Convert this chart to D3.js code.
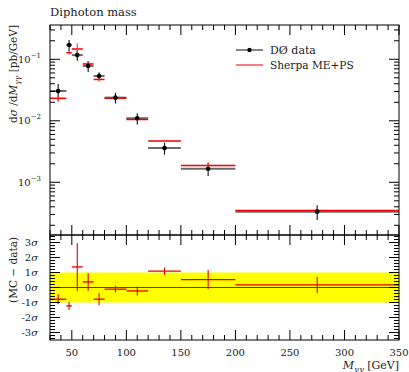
<!DOCTYPE html>
<html><head><meta charset="utf-8">
<script src="https://cdn.jsdelivr.net/npm/d3@7"></script>
<style>
body{margin:0;background:#fff;}
svg text{font-family:"DejaVu Serif",serif;fill:#222;}
</style></head>
<body><svg id="c" width="409" height="372"></svg>
<script>
const binLow  = [30,45,50,60,70,80,100,120,150,200];
const binHigh = [45,50,60,70,80,100,120,150,200,350];
const dataVal = [0.0305,0.171,0.117,0.078,0.0535,0.0238,0.011,0.0036,0.00166,0.000333];
const dataErr = [0.0092,0.035,0.022,0.016,0.0083,0.0047,0.0023,0.0008,0.0004,0.00009];
const mcVal   = [0.0232,0.128,0.147,0.084,0.047,0.0233,0.0105,0.0047,0.00187,0.000348];
const mcErr   = [0.003,0.0095,0.035,0.0093,0.0033,0.0011,0.0007,0.0002,0.00025,0.000048];
const ratioVal = [-0.78,-1.23,1.37,0.37,-0.78,-0.11,-0.23,1.09,0.53,0.17];
const ratioErr = [0.33,0.27,1.6,0.58,0.4,0.23,0.3,0.25,0.63,0.53];
const xTicks = [50,100,150,200,250,300,350];
const ratioTicks = [-3,-2,-1,0,1,2,3];
const yDecades = [-3,-2,-1];

const svg = d3.select("#c");
const L=50,R=399,T=25,MB=235,RB=340;
const x = d3.scaleLinear().domain([30,350]).range([L,R]);
const y = d3.scaleLog().domain([1.39e-4,0.361]).range([MB,T]);
const yr = d3.scaleLinear().domain([-3.5,3.5]).range([RB,MB]);
const bins = binLow.map((b,i)=>({lo:b,hi:binHigh[i],c:(b+binHigh[i])/2,d:dataVal[i],de:dataErr[i],m:mcVal[i],me:mcErr[i],r:ratioVal[i],re:ratioErr[i]}));

svg.append("clipPath").attr("id","cm").append("rect").attr("x",L).attr("y",T).attr("width",R-L).attr("height",MB-T);
svg.append("clipPath").attr("id","cr").append("rect").attr("x",L).attr("y",MB).attr("width",R-L).attr("height",RB-MB);

const rg = svg.append("g").attr("clip-path","url(#cr)");
rg.append("rect").attr("x",L).attr("width",R-L).attr("y",yr(1)).attr("height",yr(-1)-yr(1)).attr("fill","#ffff00");
rg.append("line").attr("x1",L).attr("x2",R).attr("y1",yr(0)).attr("y2",yr(0)).attr("stroke","#444").attr("stroke-width",1);
bins.forEach(b=>{
  rg.append("line").attr("x1",x(b.lo)).attr("x2",x(b.hi)).attr("y1",yr(b.r)).attr("y2",yr(b.r)).attr("stroke","#e00000").attr("stroke-width",1.3);
  rg.append("line").attr("x1",x(b.c)).attr("x2",x(b.c)).attr("y1",yr(b.r-b.re)).attr("y2",yr(b.r+b.re)).attr("stroke","#e00000").attr("stroke-width",1.1);
});

const mg = svg.append("g").attr("clip-path","url(#cm)");
bins.forEach(b=>{
  mg.append("line").attr("x1",x(b.lo)).attr("x2",x(b.hi)).attr("y1",y(b.d)).attr("y2",y(b.d)).attr("stroke","#6a6a6a").attr("stroke-width",2);
  mg.append("line").attr("x1",x(b.c)).attr("x2",x(b.c)).attr("y1",y(b.d-b.de)).attr("y2",y(b.d+b.de)).attr("stroke","#111").attr("stroke-width",1.1);
});
bins.forEach(b=>{
  mg.append("line").attr("x1",x(b.lo)).attr("x2",x(b.hi)).attr("y1",y(b.m)).attr("y2",y(b.m)).attr("stroke","#ee0000").attr("stroke-width",1.5);
  mg.append("line").attr("x1",x(b.c)).attr("x2",x(b.c)).attr("y1",y(b.m-b.me)).attr("y2",y(b.m+b.me)).attr("stroke","#ff3030").attr("stroke-width",1.1);
});
bins.forEach(b=>{
  mg.append("circle").attr("cx",x(b.c)).attr("cy",y(b.d)).attr("r",2.3).attr("fill","#000");
});

svg.append("rect").attr("x",L).attr("y",T).attr("width",R-L).attr("height",MB-T).attr("fill","none").attr("stroke","#000");
svg.append("rect").attr("x",L).attr("y",MB).attr("width",R-L).attr("height",RB-MB).attr("fill","none").attr("stroke","#000");

const tg = svg.append("g").attr("stroke","#000").attr("stroke-width",1);
const minorX = d3.range(30,351,10);
function xt(v,y0,dir){const maj=v%50===0;tg.append("line").attr("x1",x(v)).attr("x2",x(v)).attr("y1",y0).attr("y2",y0+dir*(maj?10:5));}
minorX.forEach(v=>{xt(v,T,1);xt(v,MB,-1);xt(v,MB,1);xt(v,RB,-1);});
const majY=[],minY=[];
for(let e=-4;e<=0;e++){for(let k=1;k<10;k++){const v=k*Math.pow(10,e);if(v>=1.39e-4&&v<=0.361){(k===1?majY:minY).push(v);}}}
majY.forEach(v=>{tg.append("line").attr("x1",L).attr("x2",L+10).attr("y1",y(v)).attr("y2",y(v));tg.append("line").attr("x1",R).attr("x2",R-10).attr("y1",y(v)).attr("y2",y(v));});
minY.forEach(v=>{tg.append("line").attr("x1",L).attr("x2",L+5).attr("y1",y(v)).attr("y2",y(v));tg.append("line").attr("x1",R).attr("x2",R-5).attr("y1",y(v)).attr("y2",y(v));});
d3.range(-34,35,2).forEach(k=>{const v=k/10;const maj=k%10===0;const l=maj?10:5;
  tg.append("line").attr("x1",L).attr("x2",L+l).attr("y1",yr(v)).attr("y2",yr(v));
  tg.append("line").attr("x1",R).attr("x2",R-l).attr("y1",yr(v)).attr("y2",yr(v));});

svg.append("text").attr("x",L).attr("y",16).attr("font-size",11.5).text("Diphoton mass");
xTicks.forEach(v=>svg.append("text").attr("x",x(v)).attr("y",356).attr("text-anchor","middle").attr("font-size",10).text(v));
const xl = svg.append("text").attr("x",R).attr("y",369).attr("text-anchor","end").attr("font-size",11);
xl.append("tspan").attr("font-style","italic").text("M");
xl.append("tspan").attr("font-style","italic").attr("font-size",8).attr("dy",2.5).text("γγ");
xl.append("tspan").attr("dy",-2.5).text(" [GeV]");

yDecades.forEach(e=>{
  const t=svg.append("text").attr("x",41).attr("y",y(Math.pow(10,e))+3.5).attr("text-anchor","end").attr("font-size",10);
  t.append("tspan").text("10");
  t.append("tspan").attr("font-size",7).attr("dy",-5).text("−"+(-e));
});
ratioTicks.forEach(v=>{
  const t=svg.append("text").attr("x",38).attr("y",yr(v)+3.5).attr("text-anchor","end").attr("font-size",10);
  t.append("tspan").text((v<0?"-":"")+Math.abs(v));
  t.append("tspan").attr("font-style","italic").text("σ");
});
const yl = svg.append("text").attr("transform","translate(17,25) rotate(-90)").attr("text-anchor","end").attr("font-size",10.5);
yl.append("tspan").text("d");
yl.append("tspan").attr("font-style","italic").text("σ");
yl.append("tspan").text(" /d");
yl.append("tspan").attr("font-style","italic").text("M");
yl.append("tspan").attr("font-style","italic").attr("font-size",7.5).attr("dy",2.5).text("γγ");
yl.append("tspan").attr("dy",-2.5).text(" [pb/GeV]");
svg.append("text").attr("transform","translate(17,237) rotate(-90)").attr("text-anchor","end").attr("font-size",10.5).text("(MC − data)");

svg.append("line").attr("x1",236).attr("x2",263).attr("y1",50).attr("y2",50).attr("stroke","#333").attr("stroke-width",1.2);
svg.append("circle").attr("cx",249.5).attr("cy",50).attr("r",2.2).attr("fill","#000");
svg.append("text").attr("x",270).attr("y",54).attr("font-size",11).text("DØ data");
svg.append("line").attr("x1",236).attr("x2",263).attr("y1",65).attr("y2",65).attr("stroke","#e00000").attr("stroke-width",1);
svg.append("text").attr("x",270).attr("y",69).attr("font-size",10.6).text("Sherpa ME+PS");
</script></body></html>
